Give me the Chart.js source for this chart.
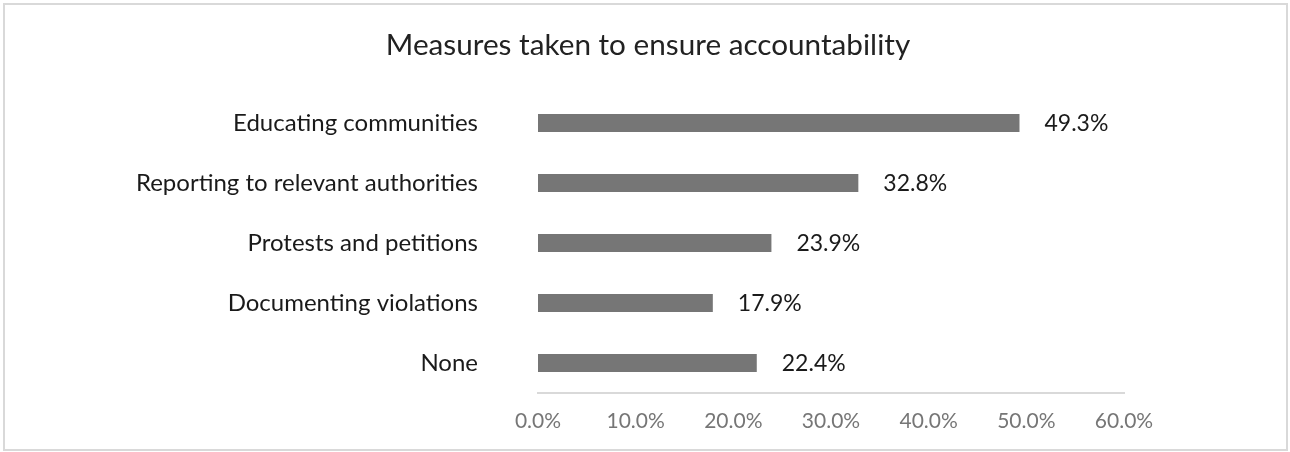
<!DOCTYPE html>
<html>
<head>
<meta charset="utf-8">
<script src="https://cdn.jsdelivr.net/npm/chart.js@4/dist/chart.umd.min.js"></script>
<style>
    body { margin: 0; background: #ffffff; }
    #wrap { position: relative; width: 1290px; height: 452px; }
</style>
</head>
<body>
<div id="wrap"><canvas id="measuresChart"></canvas></div>
<script>
let categories = ['Educating communities', 'Reporting to relevant authorities', 'Protests and petitions', 'Documenting violations', 'None'];
let shares = [49.3, 32.8, 23.9, 17.9, 22.4];
let ticks = [0, 10, 20, 30, 40, 50, 60];
let chartTitle = 'Measures taken to ensure accountability';

const fontFamily = "Lato, 'Open Sans', sans-serif";

// white background and grey frame round the whole chart
const framePlugin = {
    id: 'frame',
    beforeDraw(chart) {
        let ctx = chart.ctx;
        ctx.save();
        ctx.fillStyle = '#ffffff';
        ctx.fillRect(0, 0, chart.width, chart.height);
        ctx.strokeStyle = '#d9d9d9';
        ctx.lineWidth = 2;
        ctx.strokeRect(4, 4, chart.width - 7, chart.height - 6);
        ctx.restore();
    }
};

// title centred over the whole frame, not only the plot
const titlePlugin = {
    id: 'centredTitle',
    afterDraw(chart) {
        let ctx = chart.ctx;
        ctx.save();
        ctx.font = '29.7px ' + fontFamily;
        ctx.fillStyle = '#222222';
        ctx.textAlign = 'center';
        ctx.textBaseline = 'middle';
        ctx.fillText(chartTitle, 648, 45);
        ctx.restore();
    }
};

// percentage written just past the end of each bar
const valueLabels = {
    id: 'valueLabels',
    afterDatasetsDraw(chart) {
        let ctx = chart.ctx;
        let meta = chart.getDatasetMeta(0);
        ctx.save();
        ctx.font = '23px ' + fontFamily;
        ctx.fillStyle = '#1a1a1a';
        ctx.textAlign = 'left';
        ctx.textBaseline = 'middle';
        meta.data.forEach(function (bar, i) {
            ctx.fillText(shares[i].toFixed(1) + '%', bar.x + 25, bar.y + 1);
        });
        ctx.restore();
    }
};

let ctx = document.getElementById('measuresChart').getContext('2d');
let myChart = new Chart(ctx, {
    type: 'bar',
    data: {
        labels: categories,
        datasets: [{
            label: chartTitle,
            data: shares,
            backgroundColor: 'rgb(118, 118, 118)',
            borderWidth: 0,
            barPercentage: 0.3,
            categoryPercentage: 1
        }]
    },
    options: {
        indexAxis: 'y',
        responsive: true,
        maintainAspectRatio: false,
        animation: false,
        layout: {
            padding: { left: 4, right: 166, top: 93, bottom: 0 }
        },
        scales: {
            x: {
                min: 0,
                max: 60,
                afterBuildTicks(scale) {
                    scale.ticks = ticks.map(v => ({ value: v }));
                },
                afterFit(scale) {
                    scale.height = 59;
                },
                grid: { display: false, drawTicks: false },
                border: { display: true, color: '#d9d9d9', width: 2 },
                ticks: {
                    padding: 16,
                    color: '#767676',
                    font: { family: fontFamily, size: 21 },
                    callback: v => Number(v).toFixed(1) + '%'
                }
            },
            y: {
                afterFit(scale) {
                    // the wide label gap should not eat into the plot height
                    scale.width = 534;
                    scale.paddingTop = 0;
                    scale.paddingBottom = 0;
                },
                grid: { display: false, drawTicks: false },
                border: { display: false },
                ticks: {
                    padding: 60,
                    color: '#1a1a1a',
                    font: { family: fontFamily, size: 24 }
                }
            }
        },
        plugins: {
            legend: { display: false },
            tooltip: { enabled: false },
            title: { display: false }
        }
    },
    plugins: [framePlugin, titlePlugin, valueLabels]
});
</script>
</body>
</html>
